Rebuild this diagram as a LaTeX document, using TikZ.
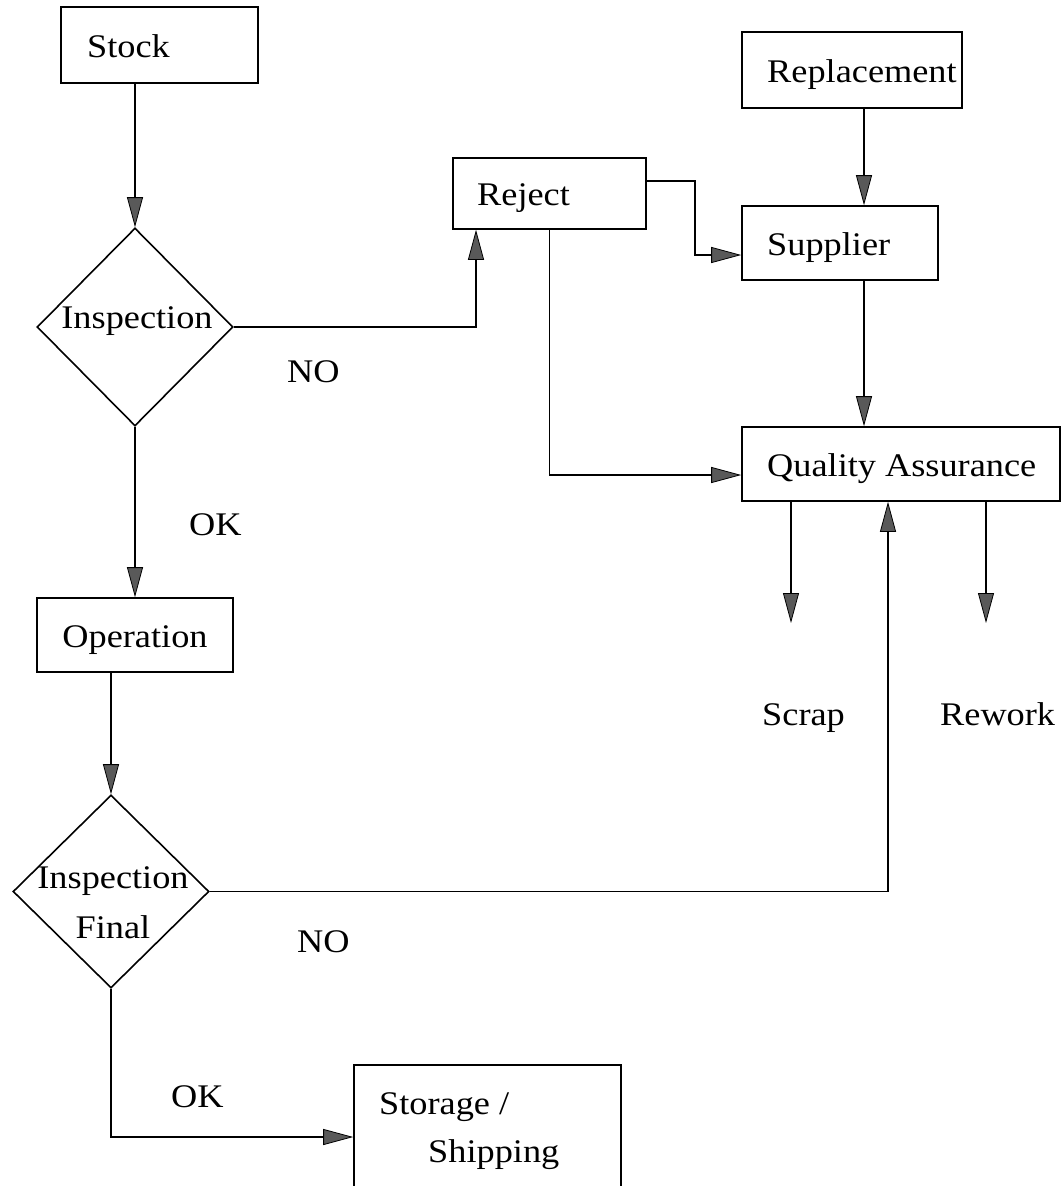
\documentclass[tikz,border=0pt]{standalone}
\usepackage{fontspec}
\setmainfont[FakeStretch=1.1]{Liberation Serif}
\usetikzlibrary{arrows.meta,shapes.geometric}
\begin{document}
\begin{tikzpicture}[x=1pt,y=-1pt,
  box/.style={draw,line width=1.6pt,rectangle,inner sep=0pt},
  decision/.style={draw,line width=1.6pt,diamond,inner sep=0pt},
  txt/.style={anchor=base west,inner sep=0pt,font=\fontsize{33}{39}\selectfont},
  arr/.style={line width=1.4pt,-{Triangle[length=30pt,width=16pt,fill=black!65,line width=0.8pt]}}]
\useasboundingbox (0,0) rectangle (1064,1186);

% boxes and decisions
\node[box,minimum width=197pt,minimum height=76pt] (stock) at (159.5,45) {};
\node[decision,minimum width=196pt,minimum height=198pt] (insp) at (135,327) {};
\node[box,minimum width=193pt,minimum height=71pt] (reject) at (549.5,193.5) {};
\node[box,minimum width=220pt,minimum height=76pt] (repl) at (852,70) {};
\node[box,minimum width=196pt,minimum height=74pt] (supp) at (840,243) {};
\node[box,minimum width=318pt,minimum height=74pt] (qa) at (901,464) {};
\node[box,minimum width=196pt,minimum height=74pt] (oper) at (135,635) {};
\node[decision,minimum width=196pt,minimum height=193pt] (final) at (111,891.5) {};
\node[box,minimum width=267pt,minimum height=140pt] (store) at (487.5,1135) {};
\coordinate (scrapend) at (791,623);
\coordinate (reworkend) at (986,623);

% texts
\node[txt] (tstock) at (87,57) {Stock};
\node[txt,anchor=base] (tinsp) at (137,328) {Inspection};
\node[txt] (treject) at (477,205) {Reject};
\node[txt] (trepl) at (767,82) {Replacement};
\node[txt] (tsupp) at (767,255) {Supplier};
\node[txt] (tqa) at (767,476) {Quality Assurance};
\node[txt,anchor=base] (toper) at (135,647) {Operation};
\node[txt,anchor=base] (tfin1) at (113,888) {Inspection};
\node[txt,anchor=base] (tfin2) at (113,938) {Final};
\node[txt] (tstore1) at (379,1114) {Storage /};
\node[txt] (tstore2) at (428,1162) {Shipping};
\node[txt] (tscrap) at (762,725) {Scrap};
\node[txt] (trework) at (940,725) {Rework};
\node[txt] (tno1) at (287,382) {NO};
\node[txt] (tno2) at (297,952) {NO};
\node[txt] (tok1) at (189,535) {OK};
\node[txt] (tok2) at (171,1107) {OK};

% connectors
\draw[arr] (insp.north |- stock.south) -- (insp.north);
\draw[arr] (insp.east) -| ([xshift=-73.5pt]reject.south);
\draw[arr] ([yshift=12.5pt]reject.east) -- ++(48,0) |- ([yshift=-12pt]supp.west);
\draw[arr] (reject.south) |- ([yshift=-11pt]qa.west);
\draw[arr] ([xshift=12pt]repl.south) -- ([xshift=24pt]supp.north);
\draw[arr] ([xshift=24pt]supp.south) -- ([xshift=-37pt]qa.north);
\draw[arr] ([xshift=-110pt]qa.south) -- (scrapend);
\draw[arr] ([xshift=85pt]qa.south) -- (reworkend);
\draw[arr] (insp.south) -- (oper.north);
\draw[arr] ([xshift=-24pt]oper.south) -- (final.north);
\draw[arr] (final.east) -| ([xshift=-13pt]qa.south);
\draw[arr] (final.south) |- ([yshift=-2pt]store.west);
\end{tikzpicture}
\end{document}
